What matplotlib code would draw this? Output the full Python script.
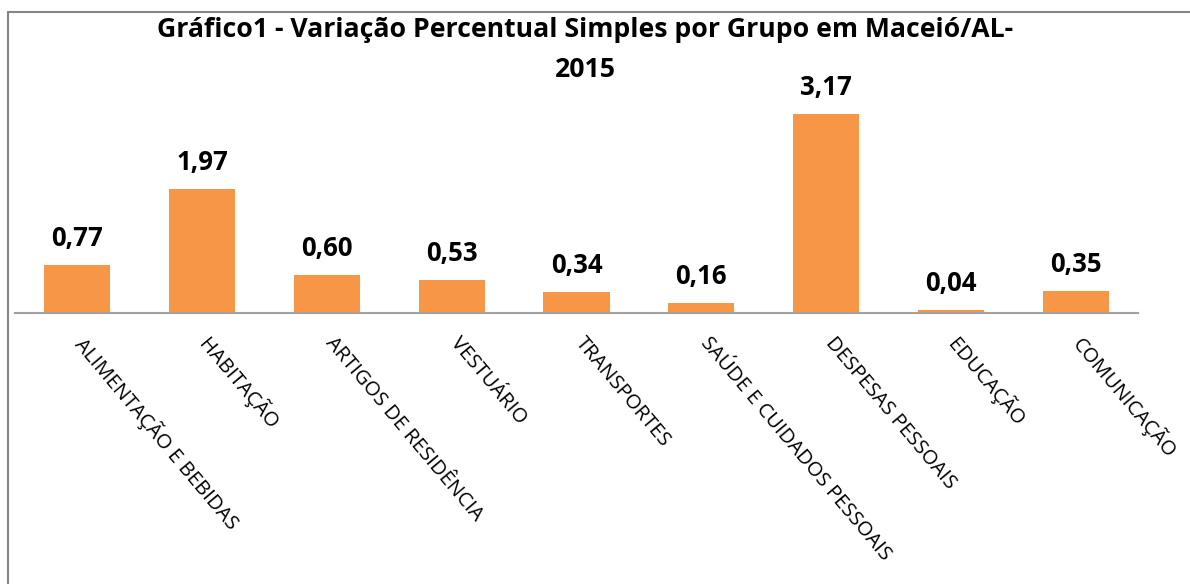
import matplotlib
matplotlib.use("Agg")
import matplotlib.pyplot as plt
from matplotlib.patches import Rectangle

# ─── DATA ─────────────────────────────────────────────────────
CATEGORIAS = ["ALIMENTAÇÃO E BEBIDAS", "HABITAÇÃO", "ARTIGOS DE RESIDÊNCIA",
              "VESTUÁRIO", "TRANSPORTES", "SAÚDE E CUIDADOS PESSOAIS",
              "DESPESAS PESSOAIS", "EDUCAÇÃO", "COMUNICAÇÃO"]
VARIACAO = [0.77, 1.97, 0.60, 0.53, 0.34, 0.16, 3.17, 0.04, 0.35]
TITULO_L1 = "Gráfico1 - Variação Percentual Simples por Grupo em Maceió/AL-"
TITULO_L2 = "2015"
# ──────────────────────────────────────────────────────────────

COR_BARRA = "#F79646"
FONTE = "Open Sans"

fig = plt.figure(figsize=(11.9, 5.84), dpi=100)
ax = fig.add_axes([15 / 1190, 1 - 313 / 584, 1123 / 1190, 220 / 584])

x = list(range(len(CATEGORIAS)))
bars = ax.bar(x, VARIACAO, width=0.53, color=COR_BARRA)

# rótulos de valor
for b, v in zip(bars, VARIACAO):
    ax.annotate(f"{v:.2f}".replace(".", ","),
                (b.get_x() + b.get_width() / 2, v),
                xytext=(0, 13), textcoords="offset pixels",
                ha="center", va="bottom", fontsize=18.5,
                fontweight="bold", family=FONTE)

ax.set_xlim(-0.5, len(CATEGORIAS) - 0.5)
ax.set_ylim(0, 3.5)
ax.set_yticks([])
ax.set_xticks([])
for s in ["top", "right", "left"]:
    ax.spines[s].set_visible(False)
ax.spines["bottom"].set_color("#A0A0A0")
ax.spines["bottom"].set_linewidth(1.5)

# rótulos das categorias, inclinados
for i, nome in enumerate(CATEGORIAS):
    ax.annotate(nome, (i, 0), xytext=(10, -20), textcoords="offset pixels",
                rotation=-50, rotation_mode="anchor", ha="left", va="top",
                fontsize=14.6, family=FONTE)

fig.text(585 / 1190, 1 - 30 / 584, TITULO_L1, ha="center", va="center",
         fontsize=19.2, fontweight="bold", family=FONTE)
fig.text(585 / 1190, 1 - 70 / 584, TITULO_L2, ha="center", va="center",
         fontsize=19.2, fontweight="bold", family=FONTE)

# moldura do gráfico
fig.patches.append(Rectangle((8 / 1190, -0.1), 1.2, 1 - 12 / 584 + 0.1,
                             transform=fig.transFigure, fill=False,
                             edgecolor="#868686", linewidth=1.5))

fig.savefig("out.png", dpi=100)
